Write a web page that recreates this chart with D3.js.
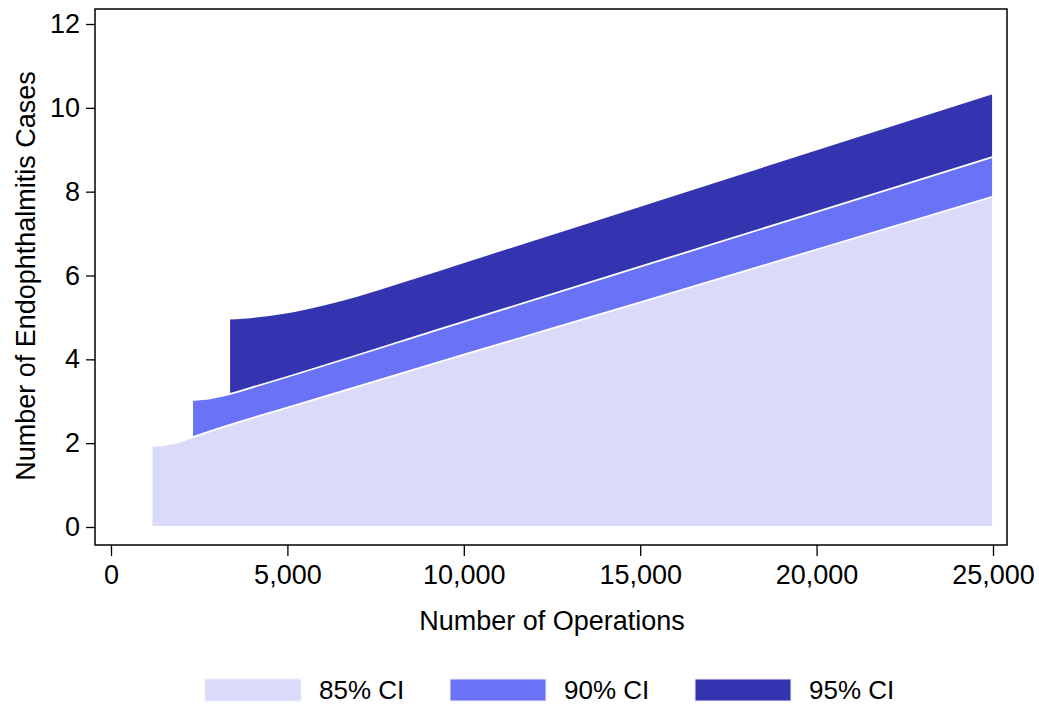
<!DOCTYPE html>
<html>
<head>
<meta charset="utf-8">
<script src="https://cdn.jsdelivr.net/npm/d3@7"></script>
<style>
  body { margin: 0; background: #fff; }
  text { font-family: Arial, "Liberation Sans", sans-serif; fill: #000; }
</style>
</head>
<body>
<div id="chart"></div>
<script>
// upper bounds, one array per band
const ops85 = [1150, 1600, 2000, 2300, 3300, 5000, 10000, 15000, 20000, 25000];
const cases85 = [1.93, 1.97, 2.05, 2.14, 2.42, 2.85, 4.11, 5.36, 6.62, 7.88];

const ops90 = [2300, 2800, 3350, 4000, 10000, 15000, 20000, 25000];
const cases90 = [3.03, 3.07, 3.17, 3.33, 4.90, 6.21, 7.52, 8.83];

const ops95 = [3350, 4000, 5000, 6000, 7000, 8000, 10000, 15000, 20000, 25000];
const cases95 = [4.97, 5.01, 5.12, 5.30, 5.52, 5.78, 6.32, 7.66, 9.01, 10.35];

const xTicks = [0, 5000, 10000, 15000, 20000, 25000];
const yTicks = [0, 2, 4, 6, 8, 10, 12];
const labels = ["85% CI", "90% CI", "95% CI"];
const colors = ["#dadafa", "#6a73f5", "#3434b0"];

const width = 1039, height = 705;

const svg = d3.select("#chart").append("svg")
  .attr("width", width)
  .attr("height", height);

const x = d3.scaleLinear().domain([0, 25000]).range([111, 993]);
const y = d3.scaleLinear().domain([0, 12]).range([527, 24]);

const bands = [
  { ops: ops95, cases: cases95, color: colors[2] },
  { ops: ops90, cases: cases90, color: colors[1] },
  { ops: ops85, cases: cases85, color: colors[0] }
];

const area = d3.area()
  .x(d => x(d[0]))
  .y0(y(0))
  .y1(d => y(d[1]))
  .curve(d3.curveMonotoneX);

// widest band first so the narrower ones sit on top
bands.forEach(b => {
  svg.append("path")
    .datum(b.ops.map((o, i) => [o, b.cases[i]]))
    .attr("d", area)
    .attr("fill", b.color)
    .attr("stroke", "#fff")
    .attr("stroke-width", 1.8)
    .attr("stroke-linejoin", "round");
});

// frame
svg.append("rect")
  .attr("x", 95).attr("y", 9)
  .attr("width", 1007 - 95).attr("height", 545 - 9)
  .attr("fill", "none")
  .attr("stroke", "#000")
  .attr("stroke-width", 1.5);

// y axis
const yAxis = svg.append("g")
  .attr("transform", "translate(95,0)")
  .call(d3.axisLeft(y).tickValues(yTicks).tickSize(9).tickPadding(6).tickFormat(d3.format("d")));
yAxis.select(".domain").remove();
yAxis.selectAll("text").style("font-size", "27px").attr("font-family", null);
yAxis.selectAll("line").attr("stroke-width", 1.3);

// x axis
const xAxis = svg.append("g")
  .attr("transform", "translate(0,545)")
  .call(d3.axisBottom(x).tickValues(xTicks).tickSize(11).tickPadding(9).tickFormat(d3.format(",")));
xAxis.select(".domain").remove();
xAxis.selectAll("text").style("font-size", "27px").attr("font-family", null);
xAxis.selectAll("line").attr("stroke-width", 1.3);

svg.append("text")
  .attr("x", 552).attr("y", 630)
  .attr("text-anchor", "middle")
  .style("font-size", "27px")
  .text("Number of Operations");

svg.append("text")
  .attr("transform", "translate(35,276) rotate(-90)")
  .attr("text-anchor", "middle")
  .style("font-size", "27px")
  .text("Number of Endophthalmitis Cases");

// legend
const legendX = [205, 450, 695];
const legend = svg.append("g");
labels.forEach((lab, i) => {
  legend.append("rect")
    .attr("x", legendX[i]).attr("y", 679)
    .attr("width", 96).attr("height", 22)
    .attr("fill", colors[i])
    .attr("stroke", "#eeeefb")
    .attr("stroke-width", 1);
  legend.append("text")
    .attr("x", legendX[i] + 114).attr("y", 699)
    .style("font-size", "26px")
    .text(lab);
});
</script>
</body>
</html>
